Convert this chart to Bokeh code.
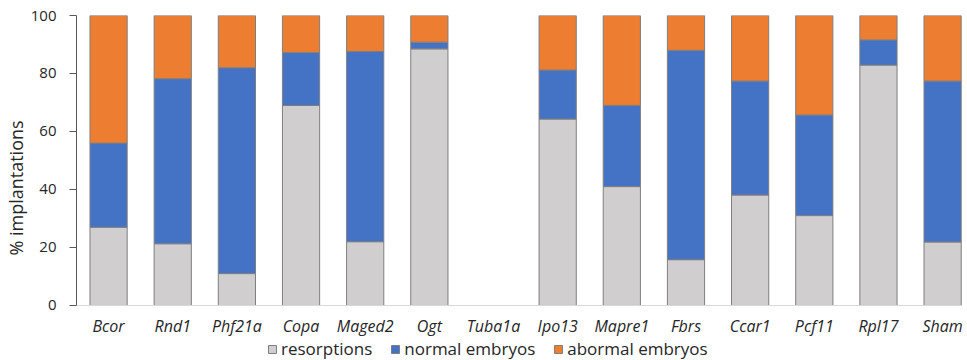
from bokeh.plotting import figure
from bokeh.models import Range1d, FixedTicker, Legend, LegendItem
from bokeh.embed import file_html
from bokeh.resources import INLINE

categories = ["Bcor", "Rnd1", "Phf21a", "Copa", "Maged2", "Ogt", "Tuba1a",
              "Ipo13", "Mapre1", "Fbrs", "Ccar1", "Pcf11", "Rpl17", "Sham"]
nan = float("nan")
resorptions = [27.0, 21.3, 11.0, 69.0, 22.0, 88.5, nan, 64.3, 41.0, 15.8, 38.1, 31.0, 82.9, 21.9]
normal_embryos = [29.0, 56.9, 71.0, 18.2, 65.6, 2.3, nan, 16.9, 28.0, 72.2, 39.3, 34.7, 8.7, 55.5]
abnormal_embryos = [44.0, 21.8, 18.0, 12.8, 12.4, 9.2, nan, 18.8, 31.0, 12.0, 22.6, 34.3, 8.4, 22.6]
y_ticks = [0, 20, 40, 60, 80, 100]

series_names = ["resorptions", "normal embryos", "abormal embryos"]
colors = ["#D0CECE", "#4472C4", "#ED7D31"]

FONT = "Open Sans"
xs = list(range(len(categories)))

# frame extends below the zero line so that labels and legend sit inside it
Y_BOTTOM = -18.97
p = figure(frame_width=886, frame_height=345, output_backend="svg", toolbar_location=None,
           x_range=Range1d(-0.5, len(categories) - 0.69), y_range=Range1d(Y_BOTTOM, 100),
           min_border_left=69, min_border_right=4, min_border_top=15, min_border_bottom=0)
p.outline_line_color = None
p.grid.visible = False
p.background_fill_color = "white"

data = dict(x=xs, r=resorptions, n=normal_embryos, a=abnormal_embryos)
renderers = p.vbar_stack(["r", "n", "a"], x="x", width=0.58, source=data,
                         color=colors, line_color="#7F7F7F", line_width=1)

p.xaxis.fixed_location = 0
p.xaxis.ticker = FixedTicker(ticks=xs)
p.xaxis.major_label_overrides = {i: c for i, c in zip(xs, categories)}
p.xaxis.major_tick_line_color = None
p.xaxis.minor_tick_line_color = None
p.xaxis.major_tick_out = 0
p.xaxis.axis_label_standoff = 0
p.xaxis.axis_line_color = "#D9D9D9"
p.xaxis.major_label_text_font = FONT
p.xaxis.major_label_text_font_style = "italic"
p.xaxis.major_label_text_font_size = "16px"
p.xaxis.major_label_text_color = "#262626"
p.xaxis.major_label_standoff = 10

p.yaxis.ticker = FixedTicker(ticks=y_ticks)
p.yaxis.bounds = (0, 100)
p.yaxis.minor_tick_line_color = None
p.yaxis.major_tick_in = 0
p.yaxis.major_tick_out = 7
p.yaxis.axis_line_color = "#595959"
p.yaxis.major_tick_line_color = "#595959"
p.yaxis.major_label_text_font = FONT
p.yaxis.major_label_text_font_size = "15px"
p.yaxis.major_label_text_color = "#262626"
p.yaxis.major_label_standoff = 13
p.yaxis.axis_label = "% implantations"
p.yaxis.axis_label_text_font = FONT
p.yaxis.axis_label_text_font_style = "normal"
p.yaxis.axis_label_text_font_size = "18px"
p.yaxis.axis_label_text_color = "#262626"
p.yaxis.axis_label_standoff = 0

items = [LegendItem(label=n, renderers=[r]) for n, r in zip(series_names, renderers)]
legend = Legend(items=items, orientation="horizontal", location=(191, 0),
                label_text_font=FONT, label_text_font_size="17px",
                label_text_color="#262626", glyph_width=10, glyph_height=10,
                spacing=18, padding=0, margin=0, label_standoff=4,
                border_line_color=None, background_fill_alpha=0,
                label_height=12, label_text_line_height=0.9)
p.add_layout(legend, "center")

open("out.html", "w").write(file_html(p, INLINE))
